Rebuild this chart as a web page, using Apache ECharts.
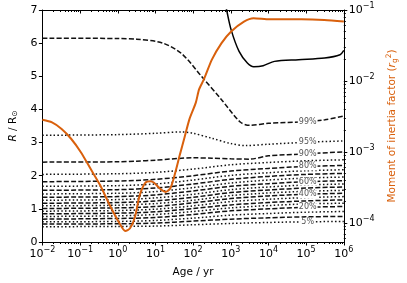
<!DOCTYPE html>
<html><head><meta charset="utf-8">
<script src="https://cdn.jsdelivr.net/npm/echarts@6/dist/echarts.min.js"></script>
<style>html,body{margin:0;padding:0;background:#fff}#c{width:407px;height:283px}</style>
</head><body><div id="c"></div>
<script>
// ---- data (ages in yr, radii in R_sun, moment of inertia factor) ----
const ageLow = [0.01, 1, 10, 100, 1000, 1e4, 1e5, 1e6];
const r85 = [2.04, 2.06, 2.10, 2.20, 2.33, 2.40, 2.45, 2.48];
const r80 = [1.82, 1.84, 1.89, 2.00, 2.14, 2.22, 2.28, 2.31];
const r75 = [1.68, 1.70, 1.75, 1.87, 2.01, 2.09, 2.15, 2.18];
const r70 = [1.56, 1.58, 1.63, 1.75, 1.89, 1.98, 2.04, 2.07];
const r65 = [1.45, 1.47, 1.52, 1.64, 1.78, 1.87, 1.93, 1.96];
const r60 = [1.35, 1.37, 1.42, 1.54, 1.68, 1.76, 1.82, 1.85];
const r55 = [1.26, 1.28, 1.33, 1.44, 1.58, 1.66, 1.72, 1.75];
const r50 = [1.17, 1.19, 1.24, 1.35, 1.49, 1.57, 1.63, 1.66];
const r45 = [1.09, 1.11, 1.16, 1.26, 1.40, 1.48, 1.53, 1.56];
const r40 = [1.01, 1.03, 1.07, 1.18, 1.31, 1.39, 1.44, 1.47];
const r35 = [0.93, 0.95, 0.99, 1.09, 1.22, 1.29, 1.34, 1.37];
const r30 = [0.85, 0.87, 0.91, 1.01, 1.12, 1.19, 1.24, 1.27];
const r25 = [0.77, 0.79, 0.83, 0.92, 1.03, 1.10, 1.15, 1.17];
const r20 = [0.69, 0.71, 0.74, 0.83, 0.94, 1.00, 1.05, 1.07];
const r15 = [0.61, 0.62, 0.65, 0.72, 0.81, 0.86, 0.90, 0.92];
const r10 = [0.54, 0.55, 0.57, 0.63, 0.69, 0.73, 0.76, 0.77];
const r05 = [0.46, 0.47, 0.48, 0.52, 0.56, 0.59, 0.61, 0.62];

const age99 = [0.01, 1, 3.16, 15.8, 50, 178, 562, 1778, 3162, 1e4, 1e5, 3.16e5, 1e6];
const r99 = [6.15, 6.14, 6.12, 6.0, 5.68, 4.96, 4.3, 3.62, 3.52, 3.58, 3.63, 3.69, 3.8];
const age95 = [0.01, 1, 10, 50, 100, 316, 1000, 2512, 1e4, 1e5, 1e6];
const r95 = [3.22, 3.24, 3.28, 3.32, 3.28, 3.13, 2.97, 2.91, 2.95, 3.01, 3.05];
const age90 = [0.01, 1, 3.16, 10, 100, 316, 1000, 3162, 1e4, 1e5, 1e6];
const r90 = [2.41, 2.42, 2.44, 2.47, 2.54, 2.53, 2.51, 2.50, 2.60, 2.66, 2.72];

const ageStar = [600, 776, 1023, 1660, 2754, 4074, 7244, 14450, 63100, 3.09e5, 7.94e5, 1e6];
const rStar = [7.6, 7.0, 6.4, 5.75, 5.4, 5.29, 5.32, 5.45, 5.5, 5.55, 5.65, 5.78];

const ageRg = [0.01,0.018,0.0324,0.0585,0.105,0.19,0.342,0.615,1.11,1.58,2.12,2.84,3.81,5.43,7.28,9.23,13.1,18.4,24.7,33.0,44.4,59.6,80,118,144,193,315,568,1023,2239,4027,10770,75000,3.03e5,1e6];
const rg2 = [2.83e-3,2.60e-3,2.10e-3,1.52e-3,9.9e-4,5.78e-4,3.38e-4,1.77e-4,9.84e-5,7.67e-5,8.38e-5,1.19e-4,2.43e-4,3.68e-4,3.85e-4,3.68e-4,3.04e-4,2.73e-4,3.04e-4,4.92e-4,9.08e-4,1.62e-3,2.90e-3,4.95e-3,7.60e-3,1.05e-2,2.00e-2,3.42e-2,4.98e-2,6.86e-2,7.66e-2,7.41e-2,7.41e-2,7.24e-2,6.86e-2];

const xTickExp = [-2, -1, 0, 1, 2, 3, 4, 5, 6];
const rTickExp = [-4, -3, -2, -1];
const labelAge = 1.1e5;

const lines = [
  {p: '99%', a: age99, v: r99, dash: 'dashed', lab: true},
  {p: '95%', a: age95, v: r95, dash: 'dotted', lab: true},
  {p: '90%', a: age90, v: r90, dash: 'dashed', lab: true},
  {p: '85%', a: ageLow, v: r85, dash: 'dotted'},
  {p: '80%', a: ageLow, v: r80, dash: 'dashed', lab: true},
  {p: '75%', a: ageLow, v: r75, dash: 'dotted'},
  {p: '70%', a: ageLow, v: r70, dash: 'dashed'},
  {p: '65%', a: ageLow, v: r65, dash: 'dotted'},
  {p: '60%', a: ageLow, v: r60, dash: 'dashed', lab: true},
  {p: '55%', a: ageLow, v: r55, dash: 'dotted'},
  {p: '50%', a: ageLow, v: r50, dash: 'dashed'},
  {p: '45%', a: ageLow, v: r45, dash: 'dotted'},
  {p: '40%', a: ageLow, v: r40, dash: 'dashed', lab: true},
  {p: '35%', a: ageLow, v: r35, dash: 'dotted'},
  {p: '30%', a: ageLow, v: r30, dash: 'dashed'},
  {p: '25%', a: ageLow, v: r25, dash: 'dotted'},
  {p: '20%', a: ageLow, v: r20, dash: 'dashed', lab: true},
  {p: '15%', a: ageLow, v: r15, dash: 'dotted'},
  {p: '10%', a: ageLow, v: r10, dash: 'dashed'},
  {p: '5%', a: ageLow, v: r05, dash: 'dotted', lab: true}
];

const L = Math.log10;
const FONT = 'DejaVu Sans';
const ORANGE = '#d9600c';

function interpAt(ages, vals, age) {
  const x = L(age);
  for (let i = 0; i < ages.length - 1; i++) {
    const x0 = L(ages[i]), x1 = L(ages[i + 1]);
    if (x >= x0 && x <= x1) return vals[i] + (vals[i + 1] - vals[i]) * (x - x0) / (x1 - x0);
  }
  return vals[vals.length - 1];
}
function expStr(n) { return n < 0 ? '\u2212' + (-n) : String(n); }
function powLabel(v) { return '{b|10}{s|' + expStr(Math.round(v)) + '}'; }

const xMinor = [];
for (let n = -2; n < 6; n++) for (let k = 2; k <= 9; k++) xMinor.push(n + L(k));
const rMinor = [];
for (let n = -5; n < -1; n++) for (let k = 2; k <= 9; k++) { const v = n + L(k); if (v > -4.27 && v < -1) rMinor.push(v); }

const richTick = {
  b: {fontSize: 11, fontFamily: FONT, color: '#000'},
  s: {fontSize: 8, fontFamily: FONT, color: '#000', padding: [0, 0, 8, 0]}
};

const series = [];
lines.forEach(l => {
  const s = {
    type: 'line', xAxisIndex: 0, yAxisIndex: 0,
    data: l.a.map((a, i) => [L(a), l.v[i]]),
    showSymbol: false, symbol: 'none', smooth: 0.3, silent: true, z: 3,
    lineStyle: {color: '#111', width: 1.5, type: l.dash === 'dashed' ? [5, 2.2] : [1.5, 2.3]}
  };
  if (l.lab) {
    s.markPoint = {
      symbol: 'rect', symbolSize: 0, silent: true, animation: false,
      data: [{coord: [L(labelAge), interpAt(l.a, l.v, labelAge)]}],
      label: {show: true, position: 'inside', formatter: l.p, fontSize: 8, fontFamily: FONT, color: '#555',
              backgroundColor: '#fff', padding: [0, 1, 0, 1]}
    };
  }
  series.push(s);
});
series.push({
  type: 'line', xAxisIndex: 0, yAxisIndex: 0, data: ageStar.map((a, i) => [L(a), rStar[i]]),
  showSymbol: false, symbol: 'none', smooth: 0.3, silent: true, z: 4,
  lineStyle: {color: '#000', width: 1.5}
});
series.push({
  type: 'line', xAxisIndex: 0, yAxisIndex: 1, data: ageRg.map((a, i) => [L(a), L(rg2[i])]),
  showSymbol: false, symbol: 'none', smooth: 0.25, silent: true, z: 5,
  lineStyle: {color: ORANGE, width: 2}
});

const axisLine = {show: true, onZero: false, lineStyle: {color: '#000', width: 1}};
const noLine = {show: false, onZero: false};
const option = {
  animation: false,
  grid: {left: 34, right: 60, top: 10, bottom: 39, containLabel: false},
  xAxis: [
    {type: 'value', min: -2, max: 6, interval: 1, position: 'bottom',
     axisLine, splitLine: {show: false},
     axisTick: {show: true, length: 3.5, lineStyle: {color: '#000'}},
     axisLabel: {formatter: powLabel, rich: richTick, margin: 4},
     name: 'Age / yr', nameLocation: 'middle', nameGap: 25,
     nameTextStyle: {fontSize: 10.5, fontFamily: FONT, color: '#000'}},
    {type: 'value', min: -2, max: 6, position: 'bottom', axisLine: noLine, splitLine: {show: false},
     axisTick: {show: true, length: 2, customValues: xMinor, lineStyle: {color: '#000'}}, axisLabel: {show: false}},
    {type: 'value', min: -2, max: 6, interval: 1, position: 'top', axisLine, splitLine: {show: false},
     axisTick: {show: true, inside: true, length: 3.5, lineStyle: {color: '#000'}}, axisLabel: {show: false}},
    {type: 'value', min: -2, max: 6, position: 'top', axisLine: noLine, splitLine: {show: false},
     axisTick: {show: true, inside: true, length: 2, customValues: xMinor, lineStyle: {color: '#000'}}, axisLabel: {show: false}}
  ],
  yAxis: [
    {type: 'value', min: 0, max: 7, interval: 1, position: 'left', axisLine, splitLine: {show: false},
     axisTick: {show: true, length: 3.5, lineStyle: {color: '#000'}},
     axisLabel: {fontSize: 11, fontFamily: FONT, color: '#000', margin: 5},
     name: '{i|R} / R{s|\u2299}', nameLocation: 'middle', nameGap: 18, nameRotate: 90,
     nameTextStyle: {fontSize: 10.5, fontFamily: FONT, color: '#000',
       rich: {i: {fontSize: 10.5, fontStyle: 'italic', fontFamily: FONT, color: '#000'},
              s: {fontSize: 7.5, fontFamily: FONT, color: '#000', padding: [4, 0, 0, 0]}}}},
    {type: 'value', min: -4.27, max: -1, position: 'right', axisLine, splitLine: {show: false},
     axisTick: {show: true, length: 3.5, customValues: rTickExp, lineStyle: {color: '#000'}},
     axisLabel: {customValues: rTickExp, formatter: powLabel, rich: richTick, margin: 5},
     name: 'Moment of inertia factor ({i|r}{sub|g}{sup|2})', nameLocation: 'middle', nameGap: 40, nameRotate: 90,
     nameTextStyle: {fontSize: 10.5, fontFamily: FONT, color: ORANGE,
       rich: {i: {fontSize: 10.5, fontStyle: 'italic', fontFamily: FONT, color: ORANGE},
              sub: {fontSize: 7.5, fontFamily: FONT, color: ORANGE, padding: [5, 0, 0, 0]},
              sup: {fontSize: 7.5, fontFamily: FONT, color: ORANGE, padding: [0, 0, 6, 0]}}}},
    {type: 'value', min: -4.27, max: -1, position: 'right', axisLine: noLine, splitLine: {show: false},
     axisTick: {show: true, length: 2, customValues: rMinor, lineStyle: {color: '#000'}}, axisLabel: {show: false}}
  ],
  series
};
const chart = echarts.init(document.getElementById('c'), null, {renderer: 'canvas'});
chart.setOption(option);
</script></body></html>
